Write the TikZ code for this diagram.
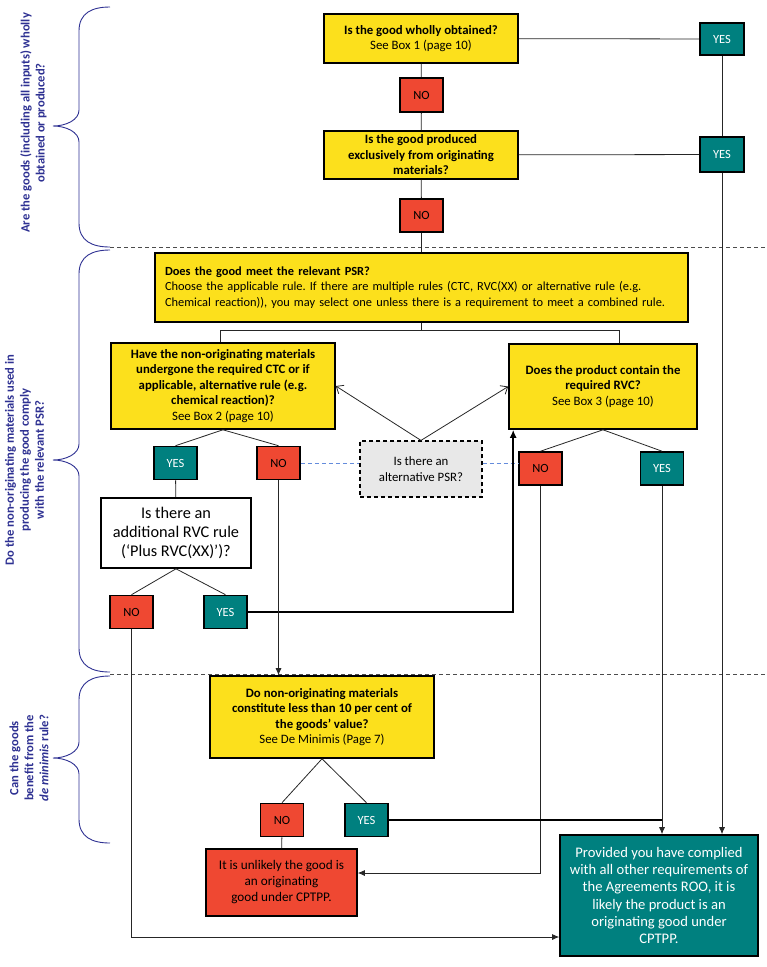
\documentclass[tikz,border=0pt]{standalone}
\usepackage{fontspec}
\setmainfont{Carlito}
\usepackage{tikz}
\usetikzlibrary{arrows.meta}
\frenchspacing
\definecolor{qyellow}{RGB}{252,224,28}
\definecolor{qred}{RGB}{239,72,50}
\definecolor{qteal}{RGB}{0,128,127}
\definecolor{qnavy}{RGB}{46,49,146}
\definecolor{qgrey}{RGB}{232,232,232}
\definecolor{qblue}{RGB}{100,140,220}
\tikzset{qbox/.style={rectangle, draw=black, line width=1.6pt, fill=qyellow, align=center, inner sep=2pt, font=\fontsize{12.8}{15.5}\selectfont}}
\tikzset{yesbox/.style={rectangle, draw=black, line width=1.6pt, fill=qteal, text=white, minimum width=43pt, minimum height=33pt, inner sep=0pt, font=\fontsize{12.5}{14}\selectfont}}
\tikzset{nobox/.style={yesbox, fill=qred, text=black}}
\tikzset{link/.style={line width=0.8pt, draw=black!85}}
\tikzset{arrow/.style={link, -{Latex[length=7pt,width=6pt]}}}
\tikzset{heavy/.style={line width=1.6pt, draw=black}}
\tikzset{openarrow/.style={link, -{Straight Barb[length=6pt,width=10pt]}}}
\tikzset{altlink/.style={line width=0.8pt, draw=qblue, dash pattern=on 4pt off 3pt}}
\tikzset{sep/.style={line width=0.8pt, draw=black!70, dash pattern=on 4pt off 3pt}}
\tikzset{bracelink/.style={line width=0.9pt, draw=qnavy}}
\tikzset{sidetext/.style={rotate=90, align=center, text=qnavy, inner sep=0pt, font=\bfseries\fontsize{12.6}{15}\selectfont}}
\newcommand{\sidebrace}[3]{%
  \draw[bracelink] (110,#1) .. controls (92,#1) and (79,#1+6) .. (79,#1+24) -- (79,#2-16)
    .. controls (79,#2-6) and (66,#2) .. (53,#2) .. controls (66,#2) and (79,#2+6) .. (79,#2+16)
    -- (79,#3-24) .. controls (79,#3-6) and (92,#3) .. (110,#3);}

\begin{document}
\begin{tikzpicture}[x=1pt, y=-1pt]
  \useasboundingbox (0,0) rectangle (767,967);

  % left hand questions
  \sidebrace{7}{126}{247}
  \sidebrace{250}{460}{672}
  \sidebrace{676}{758}{843}
  \node[sidetext] (q1) at (33.5,123) {Are the goods (including all inputs) wholly\\obtained or produced?};
  \node[sidetext] (q2) at (24.5,460) {Do the non-originating materials used in\\producing the good comply\\with the relevant PSR?};
  \node[sidetext] (q3) at (29,758) {Can the goods\\benefit from the\\\textit{de minimis} rule?};
  \draw[sep] (110,247) -- (767,247);
  \draw[sep] (110,674) -- (767,674);

  % wholly obtained
  \node[qbox, minimum width=194pt, minimum height=49pt] (whole) at (421,38.5) {\textbf{Is the good wholly obtained?}\\See Box 1 (page 10)};
  \node[yesbox, minimum width=44pt, minimum height=32pt] (yes1) at (722,39) {YES};
  \node[nobox, minimum height=34pt] (no1) at (421.5,95) {NO};
  \node[qbox, minimum width=194pt, minimum height=48pt] (excl) at (421,155) {\textbf{Is the good produced}\\\textbf{exclusively from originating}\\\textbf{materials?}};
  \node[yesbox, minimum width=44pt, minimum height=35pt] (yes2) at (722,154.5) {YES};
  \node[nobox] (no2) at (421.5,215.5) {NO};

  \draw[link] (whole) -- (yes1);
  \draw[link] (whole) -- (no1);
  \draw[link] (no1) -- (excl);
  \draw[link] (excl) -- (yes2);
  \draw[link] (excl) -- (no2);
  \draw[link] (yes1) -- (yes2);

  % product specific rule
  \node[qbox, align=left, text width=513pt, minimum height=69pt, inner xsep=10pt, font=\fontsize{12.4}{15.5}\selectfont] (psr) at (421.5,287.5) {\textbf{Does the good meet the relevant PSR?}\\Choose the applicable rule. If there are multiple rules (CTC, RVC(XX) or alternative rule (e.g.\\Chemical reaction)), you may select one unless there is a requirement to meet a combined rule.};
  \node[qbox, minimum width=224pt, minimum height=86pt] (ctc) at (223,386) {\textbf{Have the non-originating materials}\\\textbf{undergone the required CTC or if}\\\textbf{applicable, alternative rule (e.g.}\\\textbf{chemical reaction)?}\\See Box 2 (page 10)};
  \node[qbox, minimum width=188pt, minimum height=85pt] (rvc) at (603,386.5) {\textbf{Does the product contain the}\\\textbf{required RVC?}\\See Box 3 (page 10)};
  \node[qbox, fill=qgrey, line width=1.2pt, dash pattern=on 4pt off 3pt, minimum width=122pt, minimum height=56pt] (alt) at (421,469) {Is there an\\alternative PSR?};
  \node[yesbox] (yes3) at (175.5,463) {YES};
  \node[nobox] (no3) at (278.5,463) {NO};
  \node[nobox] (no4) at (540.5,468.5) {NO};
  \node[yesbox] (yes4) at (662,468.5) {YES};
  \node[rectangle, draw=black, line width=1.6pt, fill=white, align=center, minimum width=150pt, minimum height=70pt, font=\fontsize{16.3}{19}\selectfont] (addl) at (176,533) {Is there an\\additional RVC rule\\(‘Plus RVC(XX)’)?};
  \node[nobox] (no5) at (131.5,612) {NO};
  \node[yesbox] (yes5) at (225.5,612) {YES};

  \coordinate (sl) at (220,330);
  \coordinate (sr) at (619,330);
  \draw[link] (no2) -- (psr);
  \draw[link] (psr.south) |- (sl) -- (sl |- ctc.north);
  \draw[link] (psr.south) |- (sr) -- (sr |- rvc.north);
  \draw[openarrow] (alt.north) -- (ctc.east);
  \draw[openarrow] (alt.north) -- (rvc.west);
  \draw[link] (ctc.south) -- (yes3.north);
  \draw[link] (ctc.south) -- (no3.north);
  \draw[link] (rvc.south) -- (no4.north);
  \draw[link] (rvc.south) -- (yes4.north);
  \draw[altlink] (no3.east) -- (no3.east -| alt.west);
  \draw[altlink] (no3.east -| alt.east) -- (no3.east -| no4.west);
  \draw[link] (yes3) -- (addl);
  \draw[link] (addl.south) -- (no5.north);
  \draw[link] (addl.south) -- (yes5.north);
  \draw[heavy, -{Latex[length=8pt,width=7pt]}] (yes5.east) -| ([xshift=5pt]rvc.south west);

  % de minimis
  \node[qbox, minimum width=224pt, minimum height=82pt] (demin) at (322,717) {\textbf{Do non-originating materials}\\\textbf{constitute less than 10 per cent of}\\\textbf{the goods’ value?}\\See De Minimis (Page 7)};
  \node[nobox] (no6) at (282,820) {NO};
  \node[yesbox] (yes6) at (366.5,820) {YES};
  \node[rectangle, draw=black, line width=1.6pt, fill=qred, align=center, minimum width=151pt, minimum height=67pt, font=\fontsize{13.2}{16}\selectfont] (unlikely) at (281.5,882.5) {It is unlikely the good is\\an originating\\good under CPTPP.};
  \node[rectangle, draw=black, line width=1.6pt, fill=qteal, text=white, align=center, minimum width=198pt, minimum height=121pt, font=\fontsize{14.6}{17.3}\selectfont] (final) at (659,895.5) {Provided you have complied\\with all other requirements of\\the Agreements ROO, it is\\likely the product is an\\originating good under\\CPTPP.};

  \draw[arrow] (no3.south) -- (no3.south |- demin.north);
  \draw[link] (demin.south) -- (no6.north);
  \draw[link] (demin.south) -- (yes6.north);
  \draw[link] (no6) -- (unlikely);
  \draw[arrow] (no4.south) |- ([yshift=9.5pt]unlikely.east);
  \draw[heavy] (yes6.east) -- (yes6.east -| yes4.south);
  \draw[arrow] (yes4.south) -- (yes4.south |- final.north);
  \draw[arrow] (yes2.south) -- (yes2.south |- final.north);
  \draw[arrow] (no5.south) |- ([yshift=-41.5pt]final.west);

\end{tikzpicture}
\end{document}
